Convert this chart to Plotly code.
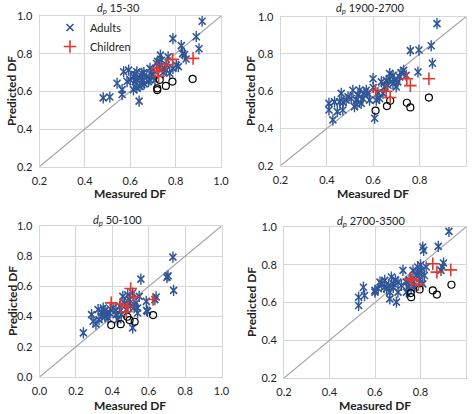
import plotly.graph_objects as go

W, H = 473, 414

# ---------------- data ----------------
titles = ["15-30", "1900-2700", "50-100", "2700-3500"]
axis_ranges = [[0.2, 1.0], [0.2, 1.0], [0.0, 1.0], [0.2, 1.0]]
tick_vals_02 = [0.2, 0.4, 0.6, 0.8, 1.0]
tick_vals_00 = [0.0, 0.2, 0.4, 0.6, 0.8, 1.0]
diag_x = [0.0, 1.0]
diag_y = [0.0, 1.0]

# panel 1: dp 15-30
p1_adults_x = [0.917, 0.891, 0.903, 0.788, 0.825, 0.839, 0.846, 0.831, 0.812, 0.733, 0.738, 0.767, 0.716, 0.730,
               0.759, 0.774, 0.788, 0.803, 0.687, 0.701, 0.694, 0.709, 0.687, 0.672, 0.680, 0.661, 0.651, 0.643,
               0.629, 0.622, 0.651, 0.629, 0.643, 0.614, 0.629, 0.600, 0.614, 0.593, 0.571, 0.586, 0.542, 0.564,
               0.564, 0.510, 0.481, 0.639, 0.752, 0.745, 0.660, 0.700, 0.720, 0.760, 0.620, 0.655]
p1_adults_y = [0.972, 0.890, 0.826, 0.880, 0.843, 0.795, 0.772, 0.800, 0.731, 0.792, 0.765, 0.783, 0.748, 0.730,
               0.713, 0.696, 0.722, 0.739, 0.722, 0.713, 0.687, 0.661, 0.661, 0.678, 0.652, 0.640, 0.696, 0.670,
               0.704, 0.652, 0.635, 0.617, 0.626, 0.678, 0.661, 0.661, 0.609, 0.713, 0.704, 0.652, 0.643, 0.609,
               0.583, 0.570, 0.565, 0.548, 0.720, 0.700, 0.700, 0.690, 0.760, 0.740, 0.690, 0.660]
p1_children_x = [0.877, 0.787, 0.758, 0.718, 0.722, 0.725]
p1_children_y = [0.775, 0.770, 0.742, 0.722, 0.705, 0.680]
p1_circles_x = [0.875, 0.786, 0.757, 0.730, 0.719, 0.719]
p1_circles_y = [0.666, 0.652, 0.629, 0.661, 0.616, 0.607]

# panel 2: dp 1900-2700
p2_adults_x = [0.875, 0.760, 0.797, 0.850, 0.855, 0.793, 0.731, 0.742, 0.714, 0.685, 0.671, 0.706, 0.699, 0.663,
               0.671, 0.635, 0.599, 0.570, 0.541, 0.534, 0.512, 0.505, 0.483, 0.462, 0.455, 0.433, 0.409, 0.409,
               0.426, 0.469, 0.606, 0.555, 0.584, 0.627, 0.642, 0.577, 0.527, 0.548, 0.519, 0.491, 0.613, 0.649,
               0.656, 0.685, 0.720, 0.690, 0.560, 0.600, 0.530, 0.620, 0.445, 0.470]
p2_adults_y = [0.963, 0.818, 0.821, 0.844, 0.750, 0.703, 0.712, 0.685, 0.676, 0.685, 0.667, 0.650, 0.623, 0.632,
               0.694, 0.650, 0.667, 0.605, 0.605, 0.579, 0.605, 0.561, 0.552, 0.588, 0.543, 0.543, 0.535, 0.499,
               0.446, 0.499, 0.455, 0.561, 0.552, 0.561, 0.588, 0.588, 0.552, 0.535, 0.517, 0.570, 0.552, 0.623,
               0.658, 0.641, 0.700, 0.660, 0.590, 0.620, 0.530, 0.590, 0.490, 0.540]
p2_children_x = [0.610, 0.656, 0.673, 0.745, 0.760, 0.840]
p2_children_y = [0.605, 0.600, 0.566, 0.667, 0.630, 0.667]
p2_circles_x = [0.610, 0.659, 0.673, 0.745, 0.760, 0.840]
p2_circles_y = [0.496, 0.520, 0.549, 0.538, 0.513, 0.566]

# panel 3: dp 50-100
p3_adults_x = [0.733, 0.706, 0.700, 0.737, 0.641, 0.634, 0.587, 0.593, 0.557, 0.241, 0.286, 0.295, 0.322, 0.341,
               0.350, 0.368, 0.377, 0.404, 0.422, 0.458, 0.467, 0.494, 0.530, 0.539, 0.548, 0.512, 0.485, 0.539,
               0.512, 0.327, 0.431, 0.589, 0.386, 0.449, 0.476, 0.360, 0.340, 0.390, 0.420, 0.500, 0.520, 0.440,
               0.310, 0.360]
p3_adults_y = [0.794, 0.670, 0.660, 0.574, 0.530, 0.512, 0.501, 0.435, 0.648, 0.292, 0.413, 0.369, 0.446, 0.402,
               0.457, 0.424, 0.391, 0.457, 0.413, 0.534, 0.490, 0.512, 0.490, 0.457, 0.534, 0.556, 0.545, 0.424,
               0.325, 0.380, 0.380, 0.441, 0.424, 0.413, 0.446, 0.440, 0.430, 0.450, 0.440, 0.470, 0.460, 0.470,
               0.350, 0.400]
p3_children_x = [0.394, 0.446, 0.501, 0.519, 0.486, 0.477, 0.624]
p3_children_y = [0.491, 0.482, 0.586, 0.531, 0.469, 0.432, 0.513]
p3_circles_x = [0.394, 0.446, 0.483, 0.495, 0.523, 0.624]
p3_circles_y = [0.344, 0.350, 0.399, 0.377, 0.366, 0.410]

# panel 4: dp 2700-3500
p4_adults_x = [0.925, 0.810, 0.814, 0.878, 0.901, 0.897, 0.890, 0.723, 0.549, 0.528, 0.554, 0.528, 0.600, 0.614,
               0.629, 0.651, 0.665, 0.672, 0.680, 0.665, 0.694, 0.701, 0.716, 0.738, 0.745, 0.738, 0.767, 0.781,
               0.788, 0.803, 0.825, 0.796, 0.817, 0.774, 0.759, 0.810, 0.643, 0.622, 0.701, 0.660, 0.680, 0.690,
               0.750, 0.770, 0.790, 0.800, 0.640, 0.600]
p4_adults_y = [0.977, 0.894, 0.876, 0.897, 0.809, 0.788, 0.770, 0.770, 0.681, 0.628, 0.637, 0.584, 0.664, 0.673,
               0.699, 0.673, 0.655, 0.735, 0.699, 0.619, 0.602, 0.708, 0.690, 0.708, 0.681, 0.655, 0.770, 0.743,
               0.788, 0.770, 0.788, 0.726, 0.743, 0.681, 0.673, 0.699, 0.717, 0.708, 0.655, 0.690, 0.680, 0.720,
               0.720, 0.710, 0.760, 0.800, 0.680, 0.655]
p4_children_x = [0.757, 0.762, 0.791, 0.854, 0.872, 0.933]
p4_children_y = [0.725, 0.718, 0.696, 0.805, 0.761, 0.773]
p4_circles_x = [0.757, 0.759, 0.796, 0.854, 0.872, 0.936]
p4_circles_y = [0.650, 0.628, 0.669, 0.664, 0.642, 0.694]

panels = [
    (p1_adults_x, p1_adults_y, p1_children_x, p1_children_y, p1_circles_x, p1_circles_y),
    (p2_adults_x, p2_adults_y, p2_children_x, p2_children_y, p2_circles_x, p2_circles_y),
    (p3_adults_x, p3_adults_y, p3_children_x, p3_children_y, p3_circles_x, p3_circles_y),
    (p4_adults_x, p4_adults_y, p4_children_x, p4_children_y, p4_circles_x, p4_circles_y),
]

# ---------------- layout (pixel boxes of plot areas) ----------------
boxes = [  # left, right, top, bottom in px
    (39.5, 221, 16, 166.7),
    (280.5, 466, 16.7, 165.7),
    (39.5, 221.5, 226, 377),
    (284, 466, 227, 378),
]
title_top = [(118, 0), (370, 0), (117, 212), (371, 213)]
# (x center, y, anchor) ; bottom-row titles sit on the figure's bottom edge
xtitle_pos = [(130, 193, "middle"), (373, 193, "middle"), (130, 414, "bottom"), (375, 414, "bottom")]
ytitle_pos = [(12, 91), (251, 91), (12, 301), (251, 302)]

BLUE = "#2F5597"
RED = "#E8352B"
GRID = "#d6d6d6"
FONT = "Lato, Open Sans, sans-serif"

fig = go.Figure()
for i, (ax, ay, cx, cy, ox, oy) in enumerate(panels):
    sx = "" if i == 0 else str(i + 1)
    xr, yr = "x" + sx, "y" + sx
    fig.add_trace(go.Scatter(x=diag_x, y=diag_y, mode="lines", xaxis=xr, yaxis=yr,
                             line=dict(color="#a6a6a6", width=1.2), showlegend=False, hoverinfo="skip"))
    fig.add_trace(go.Scatter(x=ax, y=ay, mode="markers", xaxis=xr, yaxis=yr, name="Adults",
                             legendgroup="a", showlegend=(i == 0),
                             marker=dict(symbol="x-thin-open", size=7, color=BLUE,
                                         line=dict(color=BLUE, width=1.6))))
    fig.add_trace(go.Scatter(x=ax, y=ay, mode="markers", xaxis=xr, yaxis=yr, name="Adults",
                             legendgroup="a", showlegend=False,
                             marker=dict(symbol="line-ns-open", size=8, color=BLUE,
                                         line=dict(color=BLUE, width=1.4))))
    fig.add_trace(go.Scatter(x=ox, y=oy, mode="markers", xaxis=xr, yaxis=yr, name="Corrected",
                             showlegend=False,
                             marker=dict(symbol="circle-open", size=7, color="black",
                                         line=dict(color="black", width=1.2))))
    fig.add_trace(go.Scatter(x=cx, y=cy, mode="markers", xaxis=xr, yaxis=yr, name="Children",
                             showlegend=(i == 0),
                             marker=dict(symbol="cross-thin-open", size=9, color=RED,
                                         line=dict(color=RED, width=1.6))))

layout = {}
annotations = []
for i, (l, r, t, b) in enumerate(boxes):
    sx = "" if i == 0 else str(i + 1)
    rng = axis_ranges[i]
    tv = tick_vals_00 if rng[0] == 0.0 else tick_vals_02
    common = dict(range=rng, tickvals=tv, ticktext=["%.1f" % v for v in tv],
                  showgrid=True, gridcolor=GRID, gridwidth=1, zeroline=False,
                  showline=True, linecolor=GRID, linewidth=1, mirror=True,
                  ticks="outside", ticklen=4, tickcolor="rgba(0,0,0,0)", automargin=False,
                  tickfont=dict(size=11, color="#222", family=FONT), fixedrange=True)
    layout["xaxis" + sx] = dict(common, domain=[l / W, r / W], anchor="y" + sx)
    layout["yaxis" + sx] = dict(common, domain=[1 - b / H, 1 - t / H], anchor="x" + sx)
    tx, ty = title_top[i]
    annotations.append(dict(text="<i>d</i><sub><i>p</i></sub> " + titles[i], x=tx / W, y=1 - ty / H,
                            xref="paper", yref="paper", showarrow=False, xanchor="center", yanchor="top",
                            borderpad=0, font=dict(size=11, color="#222", family=FONT)))
    mx, my, anc = xtitle_pos[i]
    annotations.append(dict(text="<b>Measured DF</b>", x=mx / W, y=1 - my / H, xref="paper", yref="paper",
                            showarrow=False, xanchor="center", yanchor=anc, borderpad=0,
                            font=dict(size=12, color="#222", family=FONT)))
    px_, py_ = ytitle_pos[i]
    annotations.append(dict(text="<b>Predicted DF</b>", x=px_ / W, y=1 - py_ / H, xref="paper", yref="paper",
                            showarrow=False, xanchor="center", yanchor="middle", textangle=-90,
                            font=dict(size=12, color="#222", family=FONT)))

fig.update_layout(
    width=W, height=H, margin=dict(l=0, r=0, t=0, b=0, autoexpand=False),
    paper_bgcolor="white", plot_bgcolor="white",
    font=dict(family=FONT, color="#222"),
    legend=dict(x=50 / W, y=1 - 13 / H, xanchor="left", yanchor="top", bgcolor="rgba(0,0,0,0)",
                font=dict(size=11, family=FONT, color="#222"), tracegroupgap=0, itemwidth=30),
    annotations=annotations,
    **layout,
)

fig.write_html("out.html", config={"displayModeBar": False, "staticPlot": True},
               post_script="document.body.style.margin='0';document.body.style.overflow='hidden';")
